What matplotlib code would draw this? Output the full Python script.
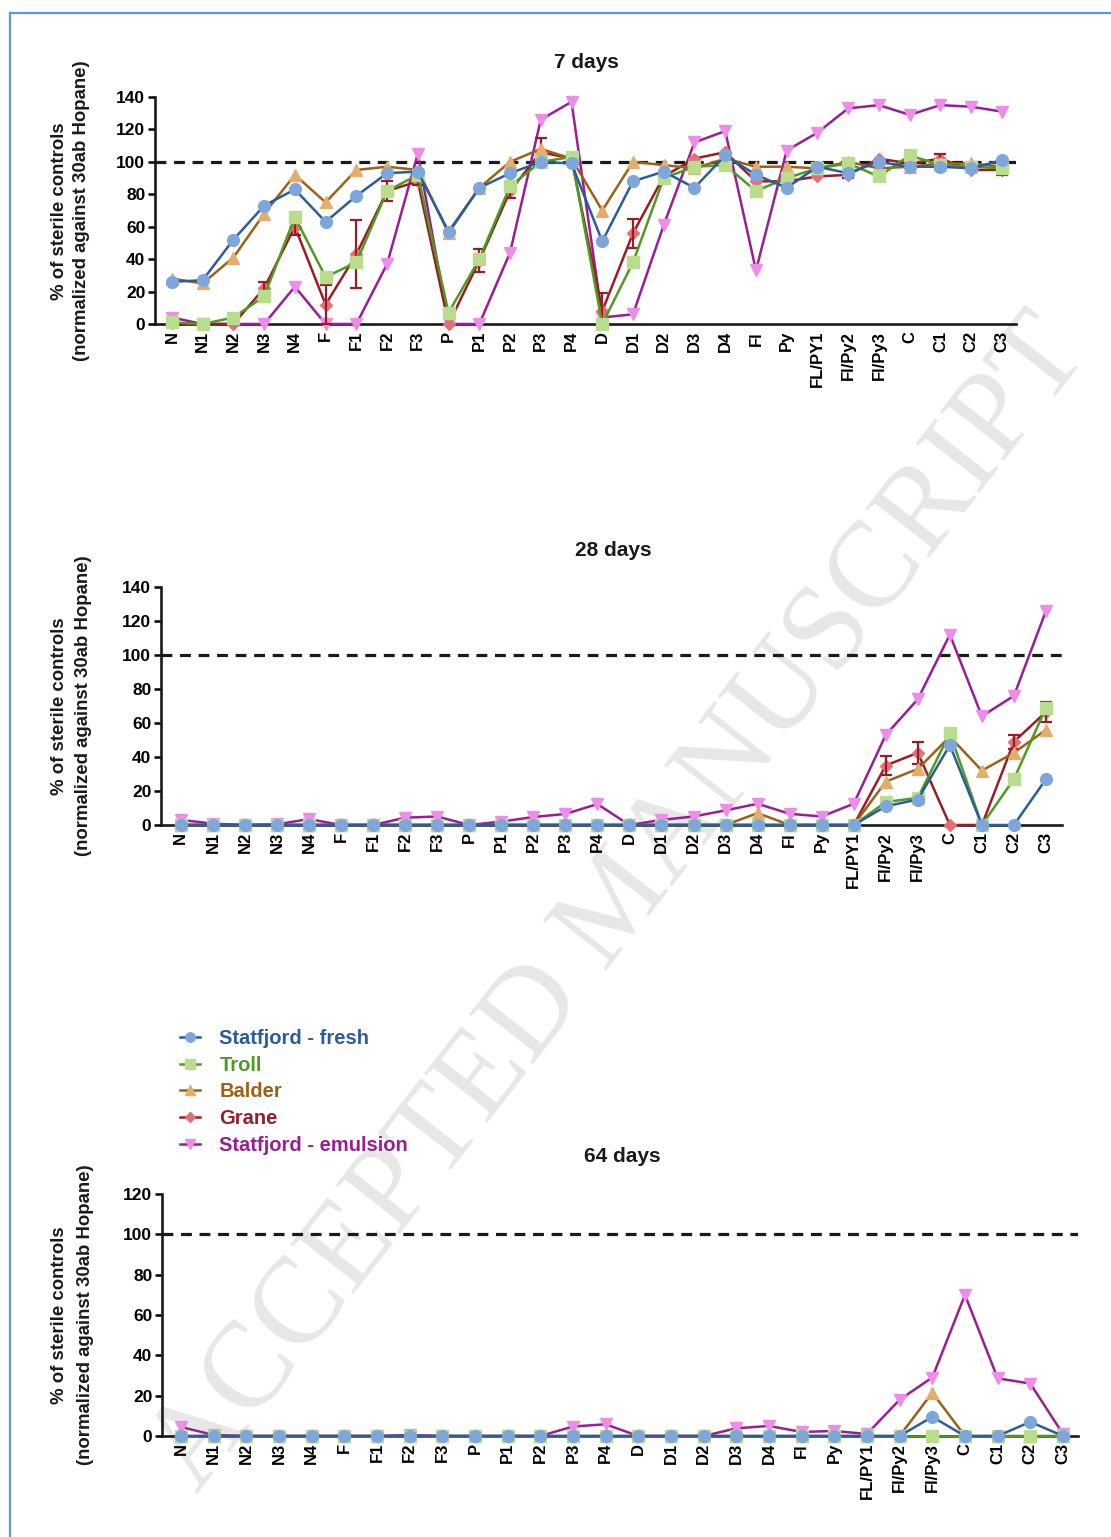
import matplotlib
matplotlib.use("Agg")
import matplotlib.pyplot as plt
from matplotlib.lines import Line2D

plt.rcParams['font.family'] = ['Liberation Sans', 'DejaVu Sans']

categories = ['N', 'N1', 'N2', 'N3', 'N4', 'F', 'F1', 'F2', 'F3', 'P', 'P1', 'P2', 'P3', 'P4',
              'D', 'D1', 'D2', 'D3', 'D4', 'Fl', 'Py', 'FL/PY1', 'Fl/Py2', 'Fl/Py3', 'C', 'C1', 'C2', 'C3']

# 7 days
fresh_7 = [26, 27, 52, 73, 83, 63, 79, 93, 94, 57, 84, 93, 100, 99,
           51, 88, 94, 84, 104, 92, 84, 97, 93, 100, 97, 97, 96, 101]
troll_7 = [1, 0, 4, 17, 66, 29, 38, 82, 92, 7, 40, 85, 100, 103,
           0, 38, 90, 97, 98, 82, 90, 96, 99, 91, 104, 98, 97, 96]
balder_7 = [28, 25, 41, 68, 92, 75, 95, 97, 95, 56, 84, 100, 108, 102,
            70, 100, 98, 96, 102, 97, 97, 96, 100, 96, 97, 99, 99, 97]
grane_7 = [0.5, 0, 0, 22, 60, 12, 43, 82, 88, 0, 39, 82, 106, 102,
           8, 56, 91, 102, 106, 88, 88, 91, 92, 102, 99, 102, 95, 95]
grane_7_err = [0, 0, 0, 4, 5, 12, 21, 6, 2, 0, 7, 4, 9, 0,
               11, 9, 3, 0, 0, 0, 0, 0, 2, 0, 0, 3, 0, 3]
emul_7 = [4, 0, 0, 0, 23, 0, 0, 37, 105, 0, 0, 44, 126, 137,
          4, 6, 61, 112, 119, 33, 107, 118, 133, 135, 129, 135, 134, 131]

# 28 days
fresh_28 = [0] * 22 + [11, 15, 47, 0, 0, 27]
troll_28 = [0] * 22 + [13.5, 16, 54, 0, 27, 69]
balder_28 = [0] * 18 + [7, 0, 0, 0, 25.5, 33, 52, 32, 42.5, 56]
grane_28 = [0] * 22 + [35, 42.5, 0, 0, 49, 66.5]
grane_28_err = [0] * 22 + [5.5, 6.5, 0, 0, 4, 6]
emul_28 = [3, 0.8, 0, 0.4, 3.5, 0, 0, 4.3, 5, 0, 2, 4.7, 6.5, 12.3,
           0, 3, 5, 8.6, 12.5, 6.6, 5, 12.5, 53, 74, 112, 64, 76, 126]

# 64 days
fresh_64 = [0] * 23 + [9.5, 0, 0, 7, 0]
troll_64 = [0] * 28
balder_64 = [0] * 23 + [21.5, 0, 0, 0, 0]
grane_64 = [0] * 28
grane_64_err = [0] * 28
emul_64 = [4.5, 0.5, 0, 0, 0, 0, 0, 0.5, 0, 0, 0, 0, 4.7, 5.8,
           0, 0, 0, 3.8, 5, 2, 2.5, 1, 18, 29, 70, 28.6, 26, 1]

series_names = ['Statfjord - fresh', 'Troll', 'Balder', 'Grane', 'Statfjord - emulsion']
line_colors = ['#2B5C9E', '#4E9A22', '#9C6114', '#9B1C24', '#9B1D93']
face_colors = ['#7FA6DA', '#B9DD8C', '#E3AE6C', '#E27077', '#EE8CEA']
markers = ['o', 's', '^', 'D', 'v']
marker_sizes = [8.5, 8.5, 8.5, 6.5, 8.5]

W, H = 1111, 1537
fig = plt.figure(figsize=(W / 100, H / 100), dpi=100)


def px(x, y):
    return x / W, 1 - y / H


def add_panel(left, right, top, bottom):
    return fig.add_axes([left / W, 1 - bottom / H, (right - left) / W, (bottom - top) / H])


panels = [
    dict(box=(155, 1016, 97, 324), xlim=(-0.55, 27.46), ymax=140, title='7 days', tpos=(586, 63),
         lab=(60, 82, 211), data=[fresh_7, troll_7, balder_7, grane_7, emul_7], err=grane_7_err),
    dict(box=(161, 1062, 587, 825), xlim=(-0.62, 27.5), ymax=140, title='28 days', tpos=(613, 551),
         lab=(60, 84, 706), data=[fresh_28, troll_28, balder_28, grane_28, emul_28], err=grane_28_err),
    dict(box=(162, 1078, 1194, 1436), xlim=(-0.58, 27.46), ymax=120, title='64 days', tpos=(622, 1157),
         lab=(60, 86, 1315), data=[fresh_64, troll_64, balder_64, grane_64, emul_64], err=grane_64_err),
]

# watermark behind everything
wx, wy = px(620, 905)
fig.text(wx, wy, 'ACCEPTED MANUSCRIPT', rotation=52, rotation_mode='anchor', ha='center', va='center',
         fontsize=88, family='Liberation Serif', color='#e7e7e7', zorder=-5)

# page frame
fig.add_artist(Line2D([10 / W, 1], [1 - 13 / H, 1 - 13 / H], color='#5B9BD5', lw=1.6))
fig.add_artist(Line2D([10 / W, 10 / W], [0, 1 - 13 / H], color='#5B9BD5', lw=1.6))

x = list(range(len(categories)))
legend_handles = []
for p in panels:
    ax = add_panel(*p['box'])
    ax.set_zorder(1)
    ax.set_facecolor('none')
    ax.set_xlim(*p['xlim'])
    ax.set_ylim(0, p['ymax'])
    for s in ['top', 'right']:
        ax.spines[s].set_visible(False)
    for s in ['left', 'bottom']:
        ax.spines[s].set_linewidth(1.9)
        ax.spines[s].set_color('#1a1a1a')
    ax.set_yticks(range(0, p['ymax'] + 1, 20))
    ax.set_xticks(x)
    ax.set_xticklabels(categories, rotation=90, fontsize=12, fontweight='bold')
    ax.tick_params(axis='y', length=5, width=1.8, labelsize=12.5, pad=2)
    ax.tick_params(axis='x', length=0, pad=5)
    for t in ax.get_yticklabels():
        t.set_fontweight('bold')

    ax.axhline(100, color='#1a1a1a', lw=2.3, dashes=(3.4, 2.4), zorder=1)

    # draw emulsion first, fresh on top
    handles = {}
    for i in [4, 3, 2, 1, 0]:
        (ln,) = ax.plot(x, p['data'][i], color=line_colors[i], lw=1.8, marker=markers[i],
                        markersize=marker_sizes[i], markerfacecolor=face_colors[i],
                        markeredgecolor=face_colors[i], clip_on=False, zorder=3 + (4 - i))
        handles[i] = ln
        if i == 3:
            xe = [k for k, e in enumerate(p['err']) if e > 0]
            if xe:
                ax.errorbar(xe, [p['data'][3][k] for k in xe], yerr=[p['err'][k] for k in xe],
                            fmt='none', ecolor=line_colors[3], elinewidth=1.6, capsize=4,
                            capthick=1.6, zorder=4)
    legend_handles = [handles[i] for i in range(5)]

    tx, ty = px(*p['tpos'])
    fig.text(tx, ty, p['title'], ha='center', va='center', fontsize=15, fontweight='bold', color='#1a1a1a')
    l1x, l2x, ly = p['lab']
    fig.text(*px(l1x, ly), '% of sterile controls', rotation=90, ha='center', va='center',
             fontsize=13.4, fontweight='bold', color='#1a1a1a')
    fig.text(*px(l2x, ly), '(normalized against 30ab Hopane)', rotation=90, ha='center', va='center',
             fontsize=13.4, fontweight='bold', color='#1a1a1a')

leg = fig.legend(legend_handles, series_names, loc='upper left', bbox_to_anchor=px(162, 1011),
                 frameon=False, handlelength=1.0, handletextpad=0.95, labelspacing=0.38,
                 markerscale=0.8, prop={'weight': 'bold', 'size': 14.5})
for txt, c in zip(leg.get_texts(), line_colors):
    txt.set_color(c)

fig.savefig('out.png', dpi=100)
